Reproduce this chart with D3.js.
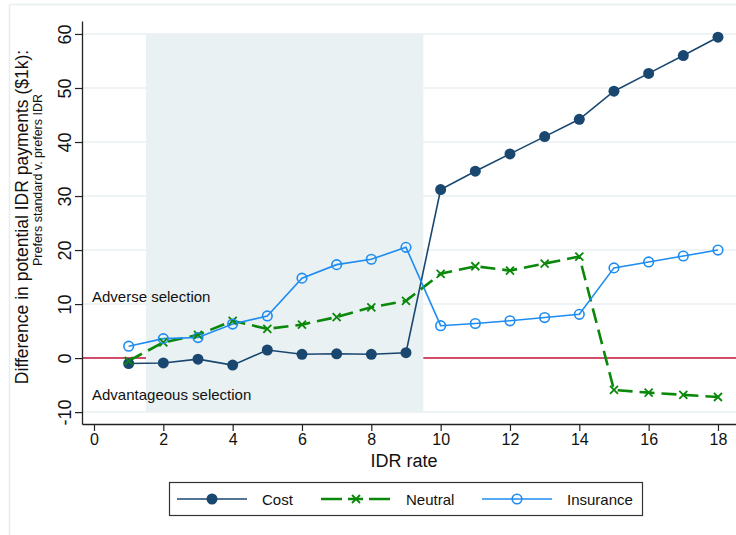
<!DOCTYPE html>
<html>
<head>
<meta charset="utf-8">
<script src="https://cdn.jsdelivr.net/npm/d3@7"></script>
<style>
  html, body { margin: 0; padding: 0; background: #fff; }
  svg { display: block; font-family: "Liberation Sans", Arial, Helvetica, sans-serif; }
</style>
</head>
<body>
<svg id="chart" width="736" height="535"></svg>
<script>
// IDR rate (x) and the difference in potential IDR payments ($1k) per type
const idrRate   = [1, 2, 3, 4, 5, 6, 7, 8, 9, 10, 11, 12, 13, 14, 15, 16, 17, 18];
const costVals  = [-1.0, -0.9, -0.2, -1.3, 1.5, 0.7, 0.8, 0.7, 1.0, 31.2, 34.6, 37.8, 41.0, 44.2, 49.4, 52.7, 56.0, 59.4];
const neutralVals = [-0.5, 2.9, 4.3, 6.9, 5.4, 6.2, 7.6, 9.4, 10.6, 15.6, 17.0, 16.2, 17.5, 18.8, -5.9, -6.4, -6.8, -7.2];
const insuranceVals = [2.2, 3.6, 3.8, 6.3, 7.8, 14.8, 17.3, 18.3, 20.5, 6.0, 6.4, 6.9, 7.5, 8.1, 16.7, 17.8, 18.9, 20.0];
const xTicks = [0, 2, 4, 6, 8, 10, 12, 14, 16, 18];
const yTicks = [-10, 0, 10, 20, 30, 40, 50, 60];
const shadeBand = { x0: 1.5, x1: 9.5, y0: -10, y1: 60 };
const seriesNames = ["Cost", "Neutral", "Insurance"];

const colors = { Cost: "#1a476f", Neutral: "#0a880a", Insurance: "#1e8cf0" };

const svg = d3.select("#chart");

// outer graph frame
svg.append("line").attr("x1", 9.5).attr("x2", 9.5).attr("y1", 4.5).attr("y2", 535)
  .attr("stroke", "#e6eef0").attr("stroke-width", 1.5);
svg.append("line").attr("x1", 9.5).attr("x2", 736).attr("y1", 4.5).attr("y2", 4.5)
  .attr("stroke", "#e6eef0").attr("stroke-width", 1.5);

const x = d3.scaleLinear().domain([-0.346, 18.52]).range([82, 736]);
const y = d3.scaleLinear().domain([-12.2, 62.4]).range([424, 21]);

// gridlines
svg.append("g").selectAll("line").data(yTicks).join("line")
  .attr("x1", x.range()[0]).attr("x2", x.range()[1])
  .attr("y1", d => y(d)).attr("y2", d => y(d))
  .attr("stroke", "#e8eff2").attr("stroke-width", 1.5);

// zero reference line
svg.append("line")
  .attr("x1", x.range()[0]).attr("x2", x.range()[1])
  .attr("y1", y(0)).attr("y2", y(0))
  .attr("stroke", "#c8163c").attr("stroke-width", 1.5);

// shaded band
svg.append("rect")
  .attr("x", x(shadeBand.x0)).attr("width", x(shadeBand.x1) - x(shadeBand.x0))
  .attr("y", y(shadeBand.y1)).attr("height", y(shadeBand.y0) - y(shadeBand.y1))
  .attr("fill", "#e9f1f3");

// axes (plain hyphen for negative labels)
const plain = d => String(d);
const xAxis = svg.append("g").attr("transform", `translate(0,${y.range()[0]})`)
  .call(d3.axisBottom(x).tickValues(xTicks).tickFormat(plain).tickSize(7).tickPadding(3).tickSizeOuter(0));
const yAxis = svg.append("g").attr("transform", `translate(${x.range()[0]},0)`)
  .call(d3.axisLeft(y).tickValues(yTicks).tickFormat(plain).tickSize(7).tickPadding(4).tickSizeOuter(0));
[xAxis, yAxis].forEach(g => {
  g.select(".domain").attr("stroke", "#222").attr("stroke-width", 1.3);
  g.selectAll(".tick line").attr("stroke", "#222").attr("stroke-width", 1.2);
  g.selectAll("text").attr("fill", "#111").attr("font-family", null);
});
xAxis.selectAll("text").attr("font-size", 16);
yAxis.selectAll(".tick text")
  .attr("font-size", 18)
  .attr("text-anchor", "middle")
  .attr("x", null).attr("y", null)
  .attr("dy", "0.35em")
  .attr("transform", "translate(-17,0) rotate(-90)");

// axis titles
svg.append("text").attr("x", 404).attr("y", 467).attr("text-anchor", "middle")
  .attr("font-size", 18).attr("fill", "#111").text("IDR rate");
svg.append("text").attr("transform", `translate(28,${217}) rotate(-90)`)
  .attr("text-anchor", "middle").attr("font-size", 17.5).attr("fill", "#111")
  .text("Difference in potential IDR payments ($1k):");
svg.append("text").attr("transform", `translate(42,${180}) rotate(-90)`)
  .attr("text-anchor", "middle").attr("font-size", 12.5).attr("fill", "#111")
  .text("Prefers standard v. prefers IDR");

// annotations
svg.append("text").attr("x", 92).attr("y", 302).attr("font-size", 15).attr("fill", "#111")
  .text("Adverse selection");
svg.append("text").attr("x", 92).attr("y", 400).attr("font-size", 15).attr("fill", "#111")
  .text("Advantageous selection");

// series
const series = [
  { name: "Cost", values: costVals, width: 1.6, dash: null },
  { name: "Neutral", values: neutralVals, width: 2.6, dash: "15,7" },
  { name: "Insurance", values: insuranceVals, width: 1.6, dash: null }
];
const line = d3.line().x(d => x(d[0])).y(d => y(d[1]));

function drawMarker(g, name, cx, cy) {
  const c = colors[name];
  if (name === "Cost") {
    g.append("circle").attr("cx", cx).attr("cy", cy).attr("r", 5.5).attr("fill", c);
  } else if (name === "Insurance") {
    g.append("circle").attr("cx", cx).attr("cy", cy).attr("r", 4.8)
      .attr("fill", "none").attr("stroke", c).attr("stroke-width", 1.6);
  } else {
    const s = 4;
    g.append("path")
      .attr("d", `M${cx - s},${cy - s}L${cx + s},${cy + s}M${cx - s},${cy + s}L${cx + s},${cy - s}`)
      .attr("stroke", c).attr("stroke-width", 1.8).attr("fill", "none");
  }
}

series.forEach(s => {
  const pts = idrRate.map((r, i) => [r, s.values[i]]);
  svg.append("path").datum(pts).attr("d", line)
    .attr("fill", "none").attr("stroke", colors[s.name])
    .attr("stroke-width", s.width).attr("stroke-dasharray", s.dash);
});
series.forEach(s => {
  const g = svg.append("g");
  idrRate.forEach((r, i) => drawMarker(g, s.name, x(r), y(s.values[i])));
});

// legend
const legend = svg.append("g");
legend.append("rect").attr("x", 169.5).attr("y", 482.5).attr("width", 473).attr("height", 33)
  .attr("fill", "#fff").attr("stroke", "#333").attr("stroke-width", 1.2);
const legendX = [177, 321, 482];
series.forEach((s, i) => {
  const x0 = legendX[i], ly = 499;
  legend.append("line").attr("x1", x0).attr("x2", x0 + 70).attr("y1", ly).attr("y2", ly)
    .attr("stroke", colors[s.name]).attr("stroke-width", s.width)
    .attr("stroke-dasharray", s.name === "Neutral" ? "21,6,15,6,21" : null);
  drawMarker(legend, s.name, x0 + 35, ly);
  legend.append("text").attr("x", x0 + 85).attr("y", ly + 5.5).attr("font-size", 15)
    .attr("fill", "#111").text(s.name);
});
</script>
</body>
</html>
